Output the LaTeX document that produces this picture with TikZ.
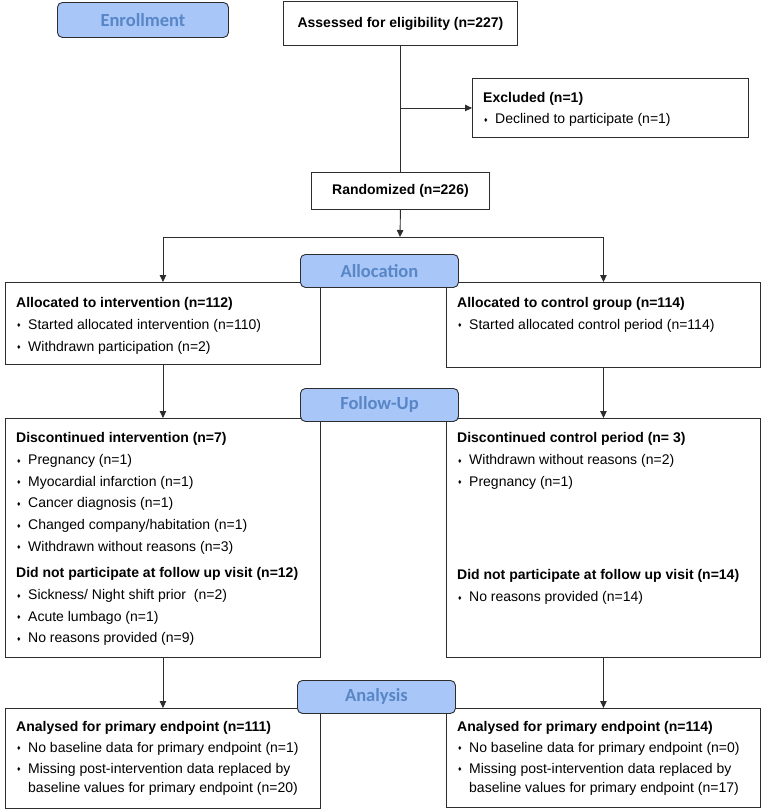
\documentclass[tikz,border=0pt]{standalone}
\usepackage{fontspec}
\setmainfont{Liberation Sans}
\newfontfamily\phasefont{Carlito}
\usetikzlibrary{arrows.meta}
\definecolor{phasefill}{RGB}{168,198,248}
\definecolor{phasetext}{RGB}{88,134,198}
\definecolor{linegray}{RGB}{45,45,45}
\newcommand{\dmd}{\makebox[12pt][l]{\hspace{1pt}\raisebox{1.5pt}{\fontsize{7}{7}\selectfont ♦}}}

\tikzset{
  box/.style={draw=linegray, line width=0.9pt, anchor=north west, inner sep=0pt},
  phase/.style={box, fill=phasefill, rounded corners=5pt, minimum width=158pt, minimum height=33pt,
    font=\phasefont\bfseries\fontsize{18.5}{20}\selectfont, text=phasetext},
  head/.style={font=\bfseries\fontsize{14}{17}\selectfont},
  txt/.style={anchor=north west, inner sep=0pt, align=left, font=\fontsize{14}{21.7}\selectfont},
  ln/.style={draw=linegray, line width=0.9pt},
  arr/.style={ln, -{Triangle[length=7pt,width=6.5pt]}}
}

\begin{document}
\begin{tikzpicture}[x=1pt,y=-1pt]
    \useasboundingbox (0,0) rectangle (762,809);

    % boxes
    \node[box, head, minimum width=234pt, minimum height=44pt] (assess) at (283,1) {Assessed for eligibility (n=227)};
    \node[box, minimum width=276pt, minimum height=59pt] (excl) at (472,78) {};
    \node[box, head, minimum width=178pt, minimum height=37pt] (rand) at (311,172) {Randomized (n=226)};
    \node[box, minimum width=315pt, minimum height=82pt] (alloc1) at (5,282) {};
    \node[box, minimum width=314pt, minimum height=85pt] (alloc2) at (446,282) {};
    \node[box, minimum width=315pt, minimum height=239pt] (fu1) at (5,418) {};
    \node[box, minimum width=314pt, minimum height=239pt] (fu2) at (446,418) {};
    \node[box, minimum width=315pt, minimum height=100pt] (an1) at (5,708) {};
    \node[box, minimum width=314pt, minimum height=99pt] (an2) at (446,708) {};

    % connectors
    \coordinate (split) at (400,237);
    \draw[ln] (assess.south) -- (rand.north);
    \draw[arr] (assess.south |- excl.west) -- (excl.west);
    \draw[arr] (rand.south) -- (split);
    \draw[ln] (alloc1.north |- split) -- (alloc2.north |- split);
    \draw[arr] (alloc1.north |- split) -- (alloc1.north);
    \draw[arr] (alloc2.north |- split) -- (alloc2.north);
    \draw[arr] (alloc1.south) -- (fu1.north);
    \draw[arr] (alloc2.south) -- (fu2.north);
    \draw[arr] (fu1.south) -- (an1.north);
    \draw[arr] (fu2.south) -- (an2.north);

    % phase labels
    \node[phase, minimum width=171pt, minimum height=35pt] (enrol) at (57,2) {Enrollment};
    \node[phase] (allocation) at (300,254) {Allocation};
    \node[phase] (followup) at (300,388) {Follow-Up};
    \node[phase] (analysis) at (297,680) {Analysis};

    % box texts
    \node[txt] (t-excl) at (483,91.7) {\textbf{Excluded (n=1)}\\
        \dmd Declined to participate (n=1)};
    \node[txt] (t-alloc1) at (16,296.7) {\textbf{Allocated to intervention (n=112)}\\[0.3pt]
        \dmd Started allocated intervention (n=110)\\[0.3pt]
        \dmd Withdrawn participation (n=2)};
    \node[txt] (t-alloc2) at (457,296.7) {\textbf{Allocated to control group (n=114)}\\[0.3pt]
        \dmd Started allocated control period (n=114)};
    \node[txt] (t-fu1) at (16,432.5) {\textbf{Discontinued intervention (n=7)}\\
        \dmd Pregnancy (n=1)\\
        \dmd Myocardial infarction (n=1)\\
        \dmd Cancer diagnosis (n=1)\\
        \dmd Changed company/habitation (n=1)\\
        \dmd Withdrawn without reasons (n=3)\\[4.8pt]
        \textbf{Did not participate at follow up visit (n=12)}\\
        \dmd Sickness/ Night shift prior~~(n=2)\\
        \dmd Acute lumbago (n=1)\\
        \dmd No reasons provided (n=9)};
    \node[txt] (t-fu2) at (457,432.5) {\textbf{Discontinued control period (n= 3)}\\
        \dmd Withdrawn without reasons (n=2)\\
        \dmd Pregnancy (n=1)\\[72pt]
        \textbf{Did not participate at follow up visit (n=14)}\\
        \dmd No reasons provided (n=14)};
    \node[txt, font=\fontsize{14}{21}\selectfont] (t-an1) at (16,720.7) {\textbf{Analysed for primary endpoint (n=111)}\\
        \dmd No baseline data for primary endpoint (n=1)\\
        \dmd Missing post-intervention data replaced by\\[-2pt]
        \hspace{12pt}baseline values for primary endpoint (n=20)};
    \node[txt, font=\fontsize{14}{21}\selectfont] (t-an2) at (457,720.7) {\textbf{Analysed for primary endpoint (n=114)}\\
        \dmd No baseline data for primary endpoint (n=0)\\
        \dmd Missing post-intervention data replaced by\\[-2pt]
        \hspace{12pt}baseline values for primary endpoint (n=17)};
\end{tikzpicture}
\end{document}
